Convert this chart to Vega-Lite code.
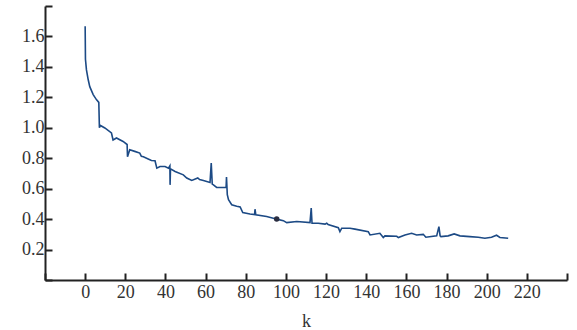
{
  "$schema": "https://vega.github.io/schema/vega-lite/v6.json",
  "width": 522,
  "height": 274,
  "autosize": {"type": "none"},
  "padding": {"left": 45, "top": 6, "right": 10, "bottom": 50},
  "background": "white",
  "config": {
    "view": {"stroke": null},
    "font": "Liberation Serif",
    "axis": {
      "grid": false,
      "domainColor": "#222222",
      "domainWidth": 2,
      "tickColor": "#222222",
      "tickWidth": 2,
      "tickSize": -7,
      "labelOverlap": false,
      "labelFont": "Liberation Serif",
      "labelFontSize": 18,
      "labelColor": "#333333",
      "titleFont": "Liberation Serif",
      "titleFontSize": 18,
      "titleFontWeight": "normal",
      "titleColor": "#333333"
    }
  },
  "data": {
    "values": [
      {"k": 0, "v": 1.667}, {"k": 0.15, "v": 1.45}, {"k": 0.65, "v": 1.38}, {"k": 1.5, "v": 1.317},
      {"k": 2.3, "v": 1.27}, {"k": 4.0, "v": 1.218}, {"k": 5.6, "v": 1.185}, {"k": 6.8, "v": 1.167},
      {"k": 7.1, "v": 1.0}, {"k": 7.6, "v": 1.015}, {"k": 9.8, "v": 0.999}, {"k": 13.1, "v": 0.966},
      {"k": 13.9, "v": 0.92}, {"k": 15.6, "v": 0.933}, {"k": 18.9, "v": 0.91}, {"k": 20.9, "v": 0.89},
      {"k": 21.1, "v": 0.81}, {"k": 22.2, "v": 0.856}, {"k": 24.7, "v": 0.845}, {"k": 27.2, "v": 0.834},
      {"k": 28.0, "v": 0.812}, {"k": 29.0, "v": 0.81}, {"k": 33.0, "v": 0.785}, {"k": 34.8, "v": 0.783},
      {"k": 35.7, "v": 0.735}, {"k": 37.3, "v": 0.746}, {"k": 39.8, "v": 0.746}, {"k": 41.5, "v": 0.735},
      {"k": 42.2, "v": 0.75}, {"k": 42.3, "v": 0.625}, {"k": 42.5, "v": 0.73}, {"k": 44.8, "v": 0.713},
      {"k": 48.9, "v": 0.691}, {"k": 50.6, "v": 0.67}, {"k": 53.1, "v": 0.654}, {"k": 56.1, "v": 0.67},
      {"k": 57.0, "v": 0.66}, {"k": 58.9, "v": 0.654}, {"k": 62.2, "v": 0.641}, {"k": 62.8, "v": 0.768},
      {"k": 63.3, "v": 0.63}, {"k": 63.9, "v": 0.625}, {"k": 65.5, "v": 0.608}, {"k": 70.2, "v": 0.608},
      {"k": 70.4, "v": 0.676}, {"k": 70.8, "v": 0.56}, {"k": 71.4, "v": 0.527}, {"k": 73.0, "v": 0.494},
      {"k": 75.5, "v": 0.485}, {"k": 77.2, "v": 0.48}, {"k": 78.5, "v": 0.443}, {"k": 82.1, "v": 0.434},
      {"k": 84.4, "v": 0.43}, {"k": 84.6, "v": 0.465}, {"k": 85.0, "v": 0.428}, {"k": 90.4, "v": 0.417},
      {"k": 93.7, "v": 0.406}, {"k": 95.4, "v": 0.4, "marker": true}, {"k": 98.7, "v": 0.39}, {"k": 100.4, "v": 0.377},
      {"k": 105.4, "v": 0.384}, {"k": 112.0, "v": 0.377}, {"k": 112.6, "v": 0.472}, {"k": 113.0, "v": 0.373},
      {"k": 116.1, "v": 0.373}, {"k": 119.5, "v": 0.367}, {"k": 120.3, "v": 0.373}, {"k": 121.0, "v": 0.365},
      {"k": 126.1, "v": 0.344}, {"k": 126.9, "v": 0.318}, {"k": 127.8, "v": 0.34}, {"k": 131.9, "v": 0.34},
      {"k": 134.4, "v": 0.334}, {"k": 141.0, "v": 0.318}, {"k": 141.9, "v": 0.296}, {"k": 146.8, "v": 0.307},
      {"k": 148.5, "v": 0.279}, {"k": 149.3, "v": 0.29}, {"k": 155.2, "v": 0.287}, {"k": 156.0, "v": 0.279},
      {"k": 159.3, "v": 0.296}, {"k": 162.6, "v": 0.307}, {"k": 165.1, "v": 0.296}, {"k": 168.4, "v": 0.3},
      {"k": 169.7, "v": 0.281}, {"k": 175.1, "v": 0.29}, {"k": 176.2, "v": 0.351}, {"k": 176.8, "v": 0.29},
      {"k": 177.2, "v": 0.285}, {"k": 180.8, "v": 0.29}, {"k": 183.8, "v": 0.303}, {"k": 186.7, "v": 0.29},
      {"k": 191.6, "v": 0.285}, {"k": 195.8, "v": 0.281}, {"k": 199.1, "v": 0.274}, {"k": 202.4, "v": 0.281},
      {"k": 204.9, "v": 0.294}, {"k": 206.6, "v": 0.279}, {"k": 210.7, "v": 0.274}
    ]
  },
  "encoding": {
    "x": {
      "field": "k", "type": "quantitative",
      "scale": {"domain": [-20, 240], "nice": false, "zero": false},
      "axis": {
        "title": "k",
        "values": [-20, 0, 20, 40, 60, 80, 100, 120, 140, 160, 180, 200, 220, 240],
        "labelExpr": "datum.value < 0 || datum.value > 230 ? '' : datum.label",
        "labelOverlap": false,
        "labelPadding": 10,
        "titlePadding": 11
      }
    },
    "y": {
      "field": "v", "type": "quantitative",
      "scale": {"domain": [0, 1.8], "nice": false, "zero": false},
      "axis": {
        "title": null,
        "values": [0, 0.2, 0.4, 0.6, 0.8, 1, 1.2, 1.4, 1.6, 1.8],
        "labelExpr": "datum.value < 0.1 || datum.value > 1.7 ? '' : format(datum.value, '.1f')",
        "labelOverlap": false,
        "labelSeparation": 0,
        "labelPadding": 8
      }
    }
  },
  "layer": [
    {
      "mark": {"type": "line", "color": "#1c4a85", "strokeWidth": 1.6, "interpolate": "linear"}
    },
    {
      "transform": [{"filter": "datum.marker === true"}],
      "mark": {"type": "point", "filled": true, "color": "#2a2d40", "size": 30, "opacity": 1}
    }
  ]
}
